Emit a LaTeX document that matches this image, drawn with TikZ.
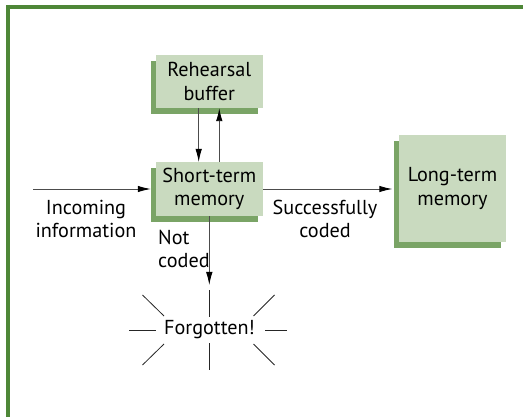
\documentclass[tikz,border=0pt]{standalone}
\usepackage{fontspec}
\setmainfont{PT Sans}
\usetikzlibrary{arrows.meta,shadows,calc}
\definecolor{boxfill}{HTML}{C9DABF}
\definecolor{shadowgreen}{HTML}{7AA466}
\definecolor{framegreen}{HTML}{4E8737}
\begin{document}
\begin{tikzpicture}[x=1pt,y=-1pt,
  txt/.style={font=\fontsize{20.2}{23.5}\selectfont, align=center, inner sep=0pt},
  memorybox/.style={txt, fill=boxfill, draw=none,
    drop shadow={shadow xshift=-5pt, shadow yshift=-6pt, fill=shadowgreen, opacity=1}},
  arrowline/.style={draw=black!70, line width=0.9pt, -{Latex[length=13pt,width=6.5pt,black]}},
  ray/.style={draw=black!85, line width=0.8pt}]
\useasboundingbox (0,0) rectangle (523,417);
% frame
\draw[framegreen, line width=4pt] (6,7) -- (523,7);
\draw[framegreen, line width=4pt] (8,5) -- (8,417);
% boxes
\node[memorybox, minimum width=106.7pt, minimum height=53pt] (rb) at (209.3,81.5) {Rehearsal\\buffer};
\node[memorybox, minimum width=106.7pt, minimum height=53.7pt] (stm) at (209.3,189) {Short-term\\memory};
\node[memorybox, minimum width=107pt, minimum height=106.7pt] (ltm) at (452.5,188.3) {Long-term\\memory};
% labels
\node[txt] (inclbl) at (86,219) {Incoming\\information};
\node[txt] (sclbl) at (325,219) {Successfully\\coded};
\node[txt, align=left, anchor=west] (nclbl) at (158,249) {Not\\coded};
\node[txt] (fg) at (209.5,330) {Forgotten!};
% connectors
\coordinate (inc) at (33,189);
\coordinate (fgtip) at (209.3,285);
\draw[arrowline] (inc) -- ([xshift=-5pt]stm.west);
\draw[arrowline] (stm.east) -- ([xshift=-6.5pt]ltm.west |- stm.east);
\draw[arrowline] ([xshift=-10.6pt]rb.south) -- ([xshift=-10.6pt]stm.north);
\draw[arrowline] ([xshift=10pt]stm.north) -- ([xshift=10pt]rb.south);
\draw[arrowline] (stm.south) -- (fgtip);
% rays
\draw[ray] ($(fg.center)+(0,-13.3)$) -- ($(fg.center)+(0,-40)$);
\draw[ray] ($(fg.center)+(0,13.3)$) -- ($(fg.center)+(0,40)$);
\draw[ray] ($(fg.center)+(-54,0)$) -- ($(fg.center)+(-80.5,0)$);
\draw[ray] ($(fg.center)+(55.5,0)$) -- ($(fg.center)+(77.5,0)$);
\draw[ray] ($(fg.center)+(-45.5,-14)$) -- ($(fg.center)+(-67,-35)$);
\draw[ray] ($(fg.center)+(44,-14)$) -- ($(fg.center)+(65,-35)$);
\draw[ray] ($(fg.center)+(-45.5,14)$) -- ($(fg.center)+(-67,35)$);
\draw[ray] ($(fg.center)+(44,14)$) -- ($(fg.center)+(65,35)$);
\end{tikzpicture}
\end{document}
